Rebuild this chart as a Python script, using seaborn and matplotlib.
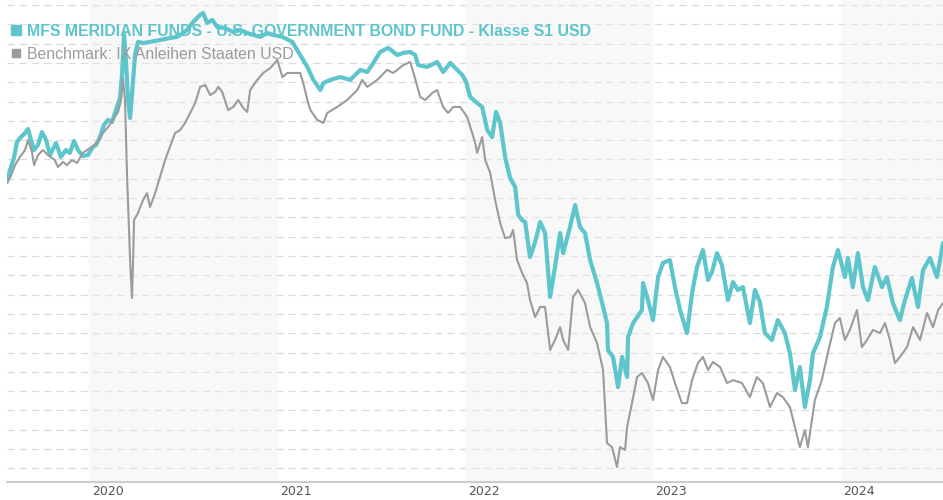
import numpy as np
import pandas as pd
import matplotlib
matplotlib.use("Agg")
import matplotlib.pyplot as plt
import matplotlib.transforms as mtransforms
from matplotlib.lines import Line2D
import seaborn as sns

# ---------------- data (decimal years, indexed value in grid units) ----------------
fund_label = "MFS MERIDIAN FUNDS - U.S. GOVERNMENT BOND FUND - Klasse S1 USD"
bench_label = "Benchmark: IX Anleihen Staaten USD"

fund_t = [2019.562, 2019.578, 2019.599, 2019.615, 2019.631, 2019.658, 2019.674, 2019.690, 2019.706, 2019.727,
          2019.748, 2019.770, 2019.791, 2019.823, 2019.849, 2019.876, 2019.897, 2019.919, 2019.940, 2019.966,
          2019.993, 2020.020, 2020.036, 2020.057, 2020.078, 2020.100, 2020.121, 2020.147, 2020.163, 2020.174,
          2020.185, 2020.195, 2020.206, 2020.217, 2020.227, 2020.243, 2020.259, 2020.286, 2020.323, 2020.376,
          2020.429, 2020.467, 2020.499, 2020.520, 2020.552, 2020.589, 2020.605, 2020.626, 2020.653, 2020.680,
          2020.722, 2020.765, 2020.802, 2020.839, 2020.871, 2020.908, 2020.946, 2020.978, 2021.026, 2021.079,
          2021.121, 2021.159, 2021.191, 2021.228, 2021.244, 2021.281, 2021.334, 2021.387, 2021.441, 2021.478,
          2021.510, 2021.547, 2021.590, 2021.638, 2021.670, 2021.707, 2021.733, 2021.749, 2021.797, 2021.850,
          2021.882, 2021.920, 2021.957, 2021.984, 2022.005, 2022.026, 2022.063, 2022.090, 2022.117, 2022.143,
          2022.164, 2022.186, 2022.212, 2022.239, 2022.266, 2022.282, 2022.303, 2022.319, 2022.345, 2022.372,
          2022.399, 2022.425, 2022.452, 2022.478, 2022.505, 2022.521, 2022.558, 2022.585, 2022.611, 2022.638,
          2022.665, 2022.702, 2022.729, 2022.755, 2022.760, 2022.787, 2022.814, 2022.835, 2022.862, 2022.867,
          2022.894, 2022.941, 2022.947, 2022.973, 2023.000, 2023.027, 2023.053, 2023.090, 2023.117, 2023.144,
          2023.181, 2023.208, 2023.234, 2023.266, 2023.293, 2023.314, 2023.341, 2023.367, 2023.399, 2023.426,
          2023.452, 2023.479, 2023.516, 2023.543, 2023.569, 2023.596, 2023.633, 2023.665, 2023.702, 2023.729,
          2023.756, 2023.782, 2023.809, 2023.836, 2023.852, 2023.889, 2023.926, 2023.958, 2023.985, 2024.022,
          2024.038, 2024.064, 2024.091, 2024.118, 2024.144, 2024.181, 2024.219, 2024.245, 2024.277, 2024.314,
          2024.341, 2024.378, 2024.410, 2024.437, 2024.474, 2024.511, 2024.543]

fund_v = [14.83, 15.46, 16.08, 16.91, 17.11, 17.37, 17.58, 17.01, 16.49, 16.75,
          17.42, 17.01, 16.23, 16.85, 16.13, 16.49, 16.34, 16.96, 16.49, 16.18,
          16.23, 16.65, 16.75, 17.16, 17.79, 18.05, 17.94, 18.72, 19.19, 20.38,
          22.45, 21.15, 19.08, 18.15, 19.34, 21.41, 22.09, 22.03, 22.09, 22.19,
          22.29, 22.35, 22.55, 22.71, 23.12, 23.49, 23.59, 23.07, 23.23, 22.86,
          22.81, 22.60, 22.71, 22.55, 22.45, 22.35, 22.55, 22.45, 22.35, 22.09,
          21.41, 20.79, 20.12, 19.60, 19.96, 20.12, 20.27, 20.12, 20.64, 20.53,
          21.00, 21.57, 21.78, 21.41, 21.52, 21.57, 21.41, 20.89, 20.79, 21.05,
          20.53, 21.00, 20.64, 20.38, 20.01, 19.24, 18.93, 18.72, 17.53, 17.16,
          18.46, 17.89, 16.13, 15.04, 14.57, 13.12, 12.86, 12.76, 10.95, 11.72,
          12.76, 12.19, 8.88, 10.43, 12.19, 11.15, 12.50, 13.64, 12.50, 12.19,
          10.79, 9.60, 8.56, 7.53, 6.13, 5.77, 4.21, 5.77, 4.73, 6.80,
          7.53, 8.20, 9.60, 8.72, 7.68, 9.91, 10.64, 10.79, 9.39, 8.20,
          7.01, 9.08, 10.43, 11.31, 9.76, 10.17, 11.15, 10.53, 8.72, 9.65,
          9.24, 9.39, 7.53, 9.24, 8.62, 7.01, 6.65, 7.68, 7.01, 5.97,
          4.06, 5.25, 3.18, 4.57, 5.97, 6.80, 8.36, 10.43, 11.31, 9.91,
          10.90, 9.39, 11.15, 9.39, 8.72, 10.43, 9.39, 9.91, 8.56, 7.68,
          8.72, 9.86, 8.36, 10.27, 10.90, 9.91, 11.67]

bench_t = [2019.562, 2019.578, 2019.605, 2019.631, 2019.658, 2019.674, 2019.695, 2019.706, 2019.727, 2019.754,
           2019.780, 2019.817, 2019.833, 2019.860, 2019.881, 2019.908, 2019.935, 2019.966, 2020.004, 2020.041,
           2020.073, 2020.100, 2020.126, 2020.153, 2020.169, 2020.179, 2020.190, 2020.201, 2020.217, 2020.227,
           2020.233, 2020.238, 2020.259, 2020.286, 2020.307, 2020.323, 2020.350, 2020.376, 2020.403, 2020.429,
           2020.456, 2020.483, 2020.509, 2020.536, 2020.563, 2020.589, 2020.616, 2020.642, 2020.669, 2020.685,
           2020.706, 2020.738, 2020.765, 2020.791, 2020.818, 2020.839, 2020.855, 2020.892, 2020.924, 2020.962,
           2020.999, 2021.026, 2021.052, 2021.084, 2021.121, 2021.137, 2021.159, 2021.175, 2021.212, 2021.244,
           2021.265, 2021.318, 2021.371, 2021.425, 2021.451, 2021.478, 2021.531, 2021.584, 2021.616, 2021.670,
           2021.707, 2021.723, 2021.760, 2021.787, 2021.824, 2021.850, 2021.882, 2021.909, 2021.936, 2021.973,
           2022.010, 2022.037, 2022.053, 2022.063, 2022.090, 2022.106, 2022.133, 2022.159, 2022.186, 2022.212,
           2022.239, 2022.255, 2022.276, 2022.303, 2022.329, 2022.345, 2022.372, 2022.399, 2022.425, 2022.452,
           2022.478, 2022.505, 2022.521, 2022.548, 2022.574, 2022.601, 2022.638, 2022.665, 2022.702, 2022.734,
           2022.755, 2022.782, 2022.808, 2022.824, 2022.851, 2022.862, 2022.888, 2022.915, 2022.941, 2022.973,
           2023.000, 2023.027, 2023.053, 2023.090, 2023.117, 2023.154, 2023.181, 2023.208, 2023.239, 2023.266,
           2023.293, 2023.319, 2023.357, 2023.394, 2023.426, 2023.474, 2023.516, 2023.553, 2023.585, 2023.623,
           2023.660, 2023.692, 2023.729, 2023.756, 2023.782, 2023.809, 2023.825, 2023.862, 2023.899, 2023.931,
           2023.969, 2023.995, 2024.022, 2024.048, 2024.086, 2024.112, 2024.139, 2024.171, 2024.208, 2024.235,
           2024.261, 2024.288, 2024.314, 2024.352, 2024.384, 2024.421, 2024.458, 2024.490, 2024.517, 2024.543]

bench_v = [14.83, 15.04, 15.71, 16.13, 16.49, 17.01, 16.39, 15.71, 16.23, 16.49,
           16.23, 15.97, 15.61, 15.87, 15.71, 15.97, 15.82, 16.34, 16.59, 16.85,
           17.37, 17.68, 18.05, 18.46, 19.08, 20.22, 19.08, 15.09, 10.79, 8.82,
           10.79, 12.86, 13.23, 13.90, 14.26, 13.54, 14.26, 15.09, 15.97, 16.65,
           17.37, 17.53, 17.89, 18.41, 18.93, 19.76, 19.86, 19.34, 19.50, 19.76,
           19.50, 18.56, 18.72, 19.08, 18.67, 18.46, 19.60, 20.12, 20.48, 20.74,
           21.15, 20.27, 20.48, 20.48, 20.48, 19.96, 19.08, 18.56, 18.05, 17.89,
           18.41, 18.72, 19.08, 19.60, 20.12, 19.76, 20.12, 20.64, 20.48, 20.89,
           21.05, 20.53, 19.24, 19.08, 19.44, 19.60, 18.72, 18.41, 18.72, 18.72,
           18.20, 17.37, 16.85, 16.34, 17.16, 15.97, 15.30, 13.90, 12.71, 11.93,
           11.98, 12.35, 10.79, 10.12, 9.60, 8.72, 7.84, 8.36, 8.36, 6.13,
           6.65, 7.32, 6.65, 6.13, 8.88, 9.24, 8.56, 7.32, 6.49, 5.09,
           1.31, 1.10, 0.07, 1.10, 0.95, 2.14, 3.38, 4.73, 4.94, 4.42,
           3.54, 5.09, 5.77, 5.25, 4.42, 3.38, 3.38, 4.57, 5.46, 5.77,
           5.09, 5.51, 5.25, 4.42, 4.57, 4.42, 3.69, 4.73, 4.42, 3.18,
           3.90, 3.69, 3.18, 2.14, 1.10, 1.98, 1.10, 3.54, 4.57, 5.97,
           7.53, 7.79, 6.65, 7.17, 8.20, 6.28, 6.65, 7.17, 7.01, 7.53,
           6.65, 5.46, 5.77, 6.28, 7.32, 6.65, 8.05, 7.32, 8.20, 8.56]

year_ticks = [2020, 2021, 2022, 2023, 2024]
shaded_years = [2020, 2022, 2024]
x_range = [2019.562, 2024.543]
y_grid = list(range(0, 25))

assert len(fund_t) == len(fund_v)
assert len(bench_t) == len(bench_v)

TEAL = "#5ec5cc"
GREY = "#9b9b9b"


def to_date(t):
    y = int(np.floor(t))
    start = pd.Timestamp(year=y, month=1, day=1)
    end = pd.Timestamp(year=y + 1, month=1, day=1)
    return start + (end - start) * (t - y)


fund_df = pd.DataFrame({"date": [to_date(t) for t in fund_t], "value": fund_v})
bench_df = pd.DataFrame({"date": [to_date(t) for t in bench_t], "value": bench_v})

# ---------------- styling ----------------
sns.set_theme(style="white")
plt.rcParams["font.family"] = ["DejaVu Sans"]
plt.rcParams["lines.scale_dashes"] = False

fig = plt.figure(figsize=(9.43, 5.0), dpi=100)
fig.patch.set_facecolor("white")
ax = fig.add_axes([7 / 943, 18.3 / 500, 936 / 943, 481.7 / 500])
ax.set_facecolor("white")

# alternating year bands
for y in shaded_years:
    ax.axvspan(to_date(y), to_date(y + 1), color="#efefef", alpha=0.4, lw=0, zorder=1)

sns.lineplot(data=fund_df, x="date", y="value", color=TEAL, lw=3.0, ax=ax,
             estimator=None, errorbar=None, sort=False, zorder=3)
sns.lineplot(data=bench_df, x="date", y="value", color=GREY, lw=1.5, ax=ax,
             estimator=None, errorbar=None, sort=False, zorder=4)

ax.set_xlim(to_date(x_range[0]), to_date(x_range[1]))
ax.set_ylim(-0.69, 24.26)
ax.set_xlabel("")
ax.set_ylabel("")

ax.set_yticks(y_grid)
ax.tick_params(axis="y", left=False, labelleft=False)
ax.set_axisbelow(True)
ax.yaxis.grid(True, color="#dadada", lw=0.9, linestyle=(0, (5.2, 3.6)))
ax.xaxis.grid(False)

ax.set_xticks([to_date(y) for y in year_ticks])
ax.set_xticklabels([str(y) for y in year_ticks])
ax.tick_params(axis="x", bottom=False, length=0, pad=2.5, labelsize=9, labelcolor="#555555")
offset = mtransforms.ScaledTranslation(18.4 / 100, 0, fig.dpi_scale_trans)
for lab in ax.get_xticklabels():
    lab.set_transform(lab.get_transform() + offset)

for s in ["top", "right", "left"]:
    ax.spines[s].set_visible(False)
ax.spines["bottom"].set_color("#cccccc")
ax.spines["bottom"].set_linewidth(1.5)

handles = [
    Line2D([], [], marker="s", ls="none", color=TEAL, markersize=6.5),
    Line2D([], [], marker="s", ls="none", color=GREY, markersize=6.0),
]
leg = ax.legend(handles, [fund_label, bench_label], loc="upper left",
                bbox_to_anchor=(11.4 / 943, 1 - 23.5 / 500), bbox_transform=fig.transFigure,
                frameon=False, borderpad=0, borderaxespad=0, handlelength=0.6,
                handletextpad=0.4, labelspacing=0.52,
                prop={"family": "Liberation Sans", "size": 11.45})
leg.set_zorder(6)
t1, t2 = leg.get_texts()
t1.set_color(TEAL)
t1.set_fontweight("bold")
t2.set_color(GREY)

fig.savefig("out.png", dpi=100, facecolor="white")
